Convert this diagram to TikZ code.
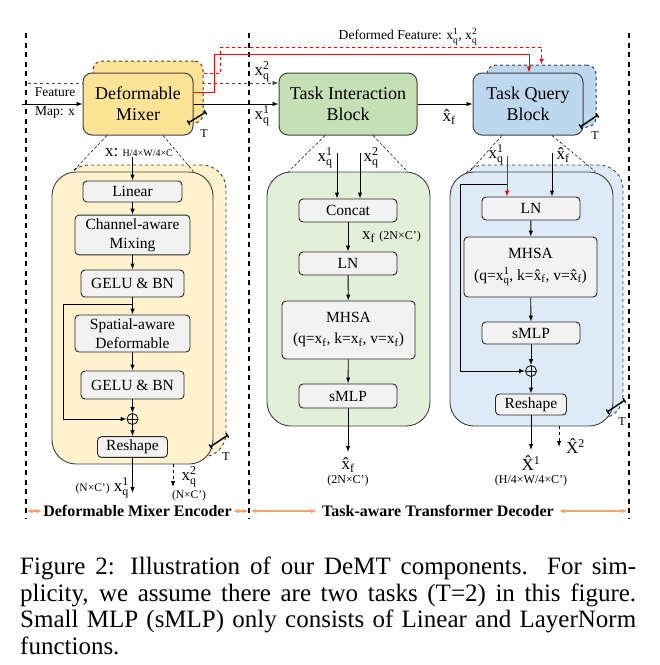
\documentclass[tikz,border=0pt]{standalone}
\usepackage{fontspec}
\setmainfont{Liberation Serif}
\usepackage{amsmath}
\usetikzlibrary{arrows.meta,backgrounds}

\newcommand{\fs}[2]{\fontsize{#1}{#2}\selectfont}
\newcommand{\xq}[1]{x\ensuremath{^{\text{#1}}_{\text{q}}}}
\newcommand{\xf}{x\ensuremath{_{\text{f}}}}
\newcommand{\xhf}{\^{x}\ensuremath{_{\text{f}}}}
\newcommand{\Xh}[1]{\^{X}\ensuremath{^{\text{#1}}}}

\definecolor{mixeryellow}{HTML}{FDE396}
\definecolor{encoderyellow}{HTML}{FFF2CC}
\definecolor{interactgreen}{HTML}{C5E0B4}
\definecolor{interactlight}{HTML}{E2F0D9}
\definecolor{queryblue}{HTML}{BDD7EE}
\definecolor{querylight}{HTML}{DEEBF7}
\definecolor{layergrey}{HTML}{F2F2F2}
\definecolor{rangeorange}{HTML}{F4A46A}
\definecolor{edgegrey}{HTML}{404040}

\tikzstyle{block}=[draw=edgegrey, line width=1pt, rounded corners=9pt, minimum width=110pt, minimum height=62pt, align=center, font=\fs{18}{21}]
\tikzstyle{mixer}=[block, fill=mixeryellow]
\tikzstyle{stacked}=[dashed]
\tikzstyle{panel}=[draw=edgegrey, line width=0.9pt, rounded corners=24pt, minimum width=163pt, minimum height=254pt]
\tikzstyle{layerbox}=[draw=black!85, line width=0.9pt, fill=layergrey, rounded corners=4pt, minimum width=98pt, minimum height=23pt, align=center, font=\fs{15.5}{19}]
\tikzstyle{oplus}=[circle, draw, line width=0.8pt, minimum size=11pt, inner sep=0pt, path picture={\draw (path picture bounding box.north) -- (path picture bounding box.south) (path picture bounding box.west) -- (path picture bounding box.east);}]
\tikzstyle{flow}=[-{Latex[length=6pt,width=4.5pt]}, line width=0.9pt]
\tikzstyle{deformed}=[flow, red, line width=1pt]
\tikzstyle{zoomline}=[line width=0.5pt, dash pattern=on 3pt off 2pt]
\tikzstyle{divider}=[line width=1.8pt, dash pattern=on 5pt off 4.5pt]
\tikzstyle{spanarrow}=[{Stealth[length=6pt,width=4.5pt]}-{Stealth[length=6pt,width=4.5pt]}, rangeorange, line width=1.2pt]
\tikzstyle{copies}=[{Bar[width=5pt]}-{Bar[width=5pt]}, line width=1.4pt]
\tikzstyle{lbl}=[inner sep=0pt, font=\fs{17}{19}]
\tikzstyle{dims}=[inner sep=0pt, font=\fs{12}{14}]
\tikzstyle{partname}=[inner sep=1.5pt, font=\fs{16}{18}\bfseries]

\begin{document}
\begin{tikzpicture}[x=1pt,y=-1pt]
    \useasboundingbox (0,0) rectangle (660,665);

    \coordinate (divl) at (26,33);
    \coordinate (divm) at (249,33);
    \coordinate (divr) at (629,33);
    \draw[divider] (divl) -- ++(0,485);
    \draw[divider] (divm) -- ++(0,485);
    \draw[divider] (divr) -- ++(0,485);

    \node [panel, stacked, fill=encoderyellow, minimum width=161pt, minimum height=292pt] (encoderback) at (145.5,311) {};
    \node [panel, fill=encoderyellow, minimum width=161pt, minimum height=292pt] (encoder) at (132.5,318) {};
    \node [panel, fill=interactlight] (interactpanel) at (348.5,299) {};
    \node [panel, stacked, fill=querylight] (querypanel2) at (541.5,292) {};
    \node [panel, fill=querylight] (querypanel) at (531.5,299) {};

    \node [mixer, stacked] (mixerback) at (148,92) {};
    \node [mixer] (mixer) at (138,104) {Deformable\\Mixer};
    \node [block, fill=interactgreen, minimum width=138pt] (interact) at (348,104) {Task Interaction\\Block};
    \node [block, stacked, fill=queryblue, minimum width=109pt] (queryback) at (541.5,96) {};
    \node [block, fill=queryblue] (query) at (528,104) {Task Query\\Block};

    \draw[zoomline] ([xshift=-31pt]mixer.south) -- ([xshift=21pt]encoder.north west);
    \draw[zoomline] ([xshift=25pt]mixer.south) -- ([xshift=-20pt]encoder.north east);
    \draw[zoomline] ([xshift=-23pt]interact.south) -- ([xshift=22pt]interactpanel.north west);
    \draw[zoomline] ([xshift=25pt]interact.south) -- ([xshift=-23pt]interactpanel.north east);
    \draw[zoomline] ([xshift=-26pt]query.south) -- ([xshift=20pt]querypanel.north west);
    \draw[zoomline] ([xshift=24pt]query.south) -- ([xshift=-18pt]querypanel.north east);

    % top row
    \coordinate (fmin) at (22,104);
    \coordinate (fmdash) at (28,83);
    \begin{pgfonlayer}{background}
        \draw[flow, dashed, edgegrey] (fmdash) -- (interact.west |- fmdash);
    \end{pgfonlayer}
    \draw[flow] (fmin) -- (mixer.west);
    \node [align=center, inner sep=0pt, font=\fs{13.5}{19}] (fmlabel) at (55,103.5) {Feature\\Map: x};
    \draw[flow] (mixer.east) -- (interact.west);
    \node [lbl] (q2top) at (262,72) {\xq{2}};
    \node [lbl] (q1top) at (262,116) {\xq{1}};
    \draw[flow] (interact.east) -- (query.west);
    \node [lbl] (xftop) at (449,117) {\xhf};

    \coordinate (redtop) at (214,54);
    \coordinate (reddash) at (220,47);
    \draw[deformed] ([yshift=12pt]mixer.east) -| (redtop) -| ([xshift=1pt]query.north);
    \draw[deformed, dashed] ([yshift=19pt]mixerback.east) -| (reddash) -| (queryback.north);
    \node [inner sep=0pt, font=\fs{13.6}{15}] (deflabel) at (408,37) {Deformed Feature: \xq{1}, \xq{2}};

    \draw[copies] (188,123) -- (206,112);
    \node [dims] (tmixer) at (204,134) {T};
    \draw[copies] (580,127) -- (598,115);
    \node [dims] (tquery) at (595,136) {T};
    \draw[copies] (210,447) -- (228,435);
    \node [dims] (tencoder) at (226,457) {T};
    \draw[copies] (607,412) -- (625,400);
    \node [dims] (tdecoder) at (622,422) {T};

    % deformable mixer encoder
    \node [lbl, anchor=west] (xin) at (105,153) {x:~{\fs{10}{12}H/4×W/4×C}};
    \node [layerbox, minimum width=99pt, minimum height=21pt] (linear) at (132.5,191.5) {Linear};
    \node [layerbox, minimum width=115pt, minimum height=36pt] (chmix) at (132.5,235) {Channel-aware\\Mixing};
    \node [layerbox, minimum width=103pt, minimum height=27pt] (gelua) at (132.5,283.5) {GELU \& BN};
    \node [layerbox, minimum width=115pt, minimum height=37pt] (spdef) at (132.5,333.5) {Spatial-aware\\Deformable};
    \node [layerbox, minimum width=103pt, minimum height=28pt] (gelub) at (132.5,385) {GELU \& BN};
    \node [oplus] (addenc) at (132.5,419) {};
    \node [layerbox, minimum width=70pt, minimum height=20pt] (reshapeenc) at (132.5,447) {Reshape};
    \draw[flow] (linear.north |- xin.south) -- (linear.north);
    \draw[flow] (linear) -- (chmix);
    \draw[flow] (chmix) -- (gelua);
    \draw[flow] (gelua) -- (spdef);
    \draw[flow] (spdef) -- (gelub);
    \draw[flow] (gelub) -- (addenc);
    \draw[flow] (addenc) -- (reshapeenc);
    \coordinate (skipenc) at (132.5,304);
    \draw[flow] (skipenc) -- (63,304) |- (addenc.west);
    \coordinate (encout) at (132.5,493);
    \draw[flow] (reshapeenc) -- (encout);
    \node [lbl, anchor=east] (q1out) at (129,488) {{\fs{11.5}{13}(N×C’)} \xq{1}};
    \coordinate (encdash) at (173,487);
    \draw[flow, dashed] (encoder.south -| encdash) -- (encdash);
    \node [lbl] (q2out) at (189,477) {\xq{2}};
    \node [dims, font=\fs{11.5}{13}] (q2dim) at (189,496) {(N×C’)};

    % task interaction block
    \coordinate (inq1) at (337,153);
    \coordinate (inq2) at (360,153);
    \node [lbl] (q1int) at (325,158) {\xq{1}};
    \node [lbl] (q2int) at (371,158) {\xq{2}};
    \node [layerbox] (concat) at (348,210.5) {Concat};
    \node [layerbox] (lnint) at (348,263.5) {LN};
    \node [layerbox, minimum width=133pt, minimum height=58pt, font=\fs{15.5}{21}] (mhsaint) at (348.5,330) {MHSA\\(q=\xf, k=\xf, v=\xf)};
    \node [layerbox, minimum height=24pt] (smlpint) at (348,396) {sMLP};
    \draw[flow] (inq1) -- (concat.north -| inq1);
    \draw[flow] (inq2) -- (concat.north -| inq2);
    \draw[flow] (concat) -- (lnint);
    \node [lbl, anchor=west] (xfint) at (362,237) {\xf\ {\fs{12}{14}(2N×C’)}};
    \draw[flow] (lnint) -- (mhsaint);
    \draw[flow] (mhsaint) -- (smlpint);
    \coordinate (intout) at (348,452);
    \draw[flow] (smlpint) -- (intout);
    \node [lbl] (xfout) at (348,465) {\xhf};
    \node [dims] (xfdim) at (348,481) {(2N×C’)};

    % task query block
    \coordinate (inq1b) at (507,156);
    \coordinate (inxf) at (552,153);
    \node [lbl] (q1qry) at (496,155) {\xq{1}};
    \node [lbl] (xfqry) at (563,155) {\xhf};
    \node [layerbox] (lnq) at (531,208.5) {LN};
    \node [layerbox, minimum width=133pt, minimum height=60pt, font=\fs{15.5}{22}] (mhsaq) at (530.5,267) {MHSA\\(q=\xq{1}, k=\xhf, v=\xhf)};
    \node [layerbox, minimum height=22pt] (smlpq) at (531,333) {sMLP};
    \node [oplus] (addq) at (531,371) {};
    \node [layerbox, minimum width=71pt, minimum height=21pt] (reshapeq) at (531,404.5) {Reshape};
    \draw[flow, red] (inq1b) -- (lnq.north -| inq1b);
    \draw[flow] (inxf) -- (lnq.north -| inxf);
    \draw[flow] (lnq) -- (mhsaq);
    \draw[flow] (mhsaq) -- (smlpq);
    \draw[flow] (smlpq) -- (addq);
    \draw[flow] (addq) -- (reshapeq);
    \coordinate (skipq) at (507,184);
    \draw[flow] (skipq) -- (460,184) |- (addq.west);
    \coordinate (qout) at (531,450);
    \draw[flow] (reshapeq) -- (qout);
    \node [lbl] (x1out) at (531,463) {\Xh{1}};
    \node [dims] (x1dim) at (531,481) {(H/4×W/4×C’)};
    \coordinate (qdash) at (559,447);
    \draw[flow, dashed] (querypanel.south -| qdash) -- (qdash);
    \node [lbl, anchor=west] (x2out) at (566,446) {\Xh{2}};

    % part names
    \node [partname] (encname) at (137.5,511) {Deformable Mixer Encoder};
    \node [partname] (decname) at (438,511) {Task-aware Transformer Decoder};
    \draw[spanarrow] ([xshift=1pt]divl |- encname) -- (encname.west);
    \draw[spanarrow] (encname.east) -- ([xshift=-1pt]divm |- encname);
    \draw[spanarrow] ([xshift=2pt]divm |- decname) -- ([xshift=-4pt]decname.west);
    \draw[spanarrow] ([xshift=4pt]decname.east) -- ([xshift=-2pt]divr |- decname);

    \node [anchor=north west, text width=616pt, align=justify, inner sep=0pt, font=\fs{25}{26.5}] (caption) at (20,557) {Figure 2: Illustration of our DeMT components. For sim-\linebreak plicity, we assume there are two tasks (T=2) in this figure.\linebreak Small MLP (sMLP) only consists of Linear and LayerNorm\linebreak functions.};
\end{tikzpicture}
\end{document}
